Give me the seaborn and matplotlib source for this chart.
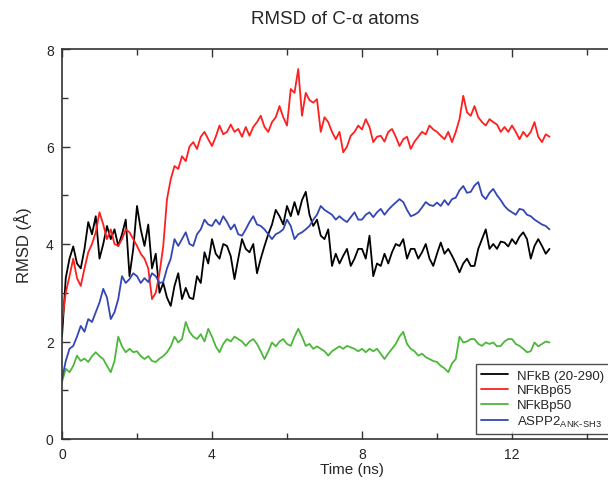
import numpy as np
import pandas as pd
import matplotlib.pyplot as plt
import seaborn as sns

# RMSD values (Angstrom), read every 0.1 ns from 0 to 13 ns
nfkb = [2.1, 3.3, 3.7, 3.95, 3.6, 3.5, 3.9, 4.45, 4.2, 4.57,
        3.7, 4.0, 4.37, 4.1, 4.3, 3.96, 4.2, 4.5, 3.34, 3.9,
        4.78, 4.3, 3.96, 4.4, 3.5, 3.8, 3.0, 3.2, 2.9, 2.73,
        3.14, 3.4, 2.87, 3.1, 2.9, 2.87, 3.34, 3.2, 3.83, 3.6,
        4.1, 3.8, 3.7, 4.0, 3.96, 3.75, 3.28, 3.7, 4.1, 3.9,
        3.83, 4.0, 3.4, 3.7, 3.96, 4.2, 4.4, 4.7, 4.57, 4.4,
        4.78, 4.57, 4.86, 4.6, 4.9, 5.07, 4.6, 4.37, 4.5, 4.17,
        4.1, 4.3, 3.55, 3.8, 3.6, 3.76, 3.9, 3.55, 3.7, 3.9,
        3.9, 3.7, 4.17, 3.34, 3.6, 3.55, 3.8, 3.6, 3.83, 4.0,
        3.96, 4.1, 3.7, 3.9, 3.9, 3.7, 3.83, 4.0, 3.7, 3.55,
        3.8, 4.03, 3.8, 3.9, 3.76, 3.6, 3.42, 3.6, 3.7, 3.55,
        3.55, 3.9, 4.1, 4.3, 3.9, 4.0, 3.9, 4.05, 4.03, 3.95,
        4.1, 4.0, 4.15, 4.24, 4.1, 3.7, 3.96, 4.1, 3.96, 3.8,
        3.9]
p65 = [2.4, 3.0, 3.34, 3.7, 3.3, 3.14, 3.5, 3.83, 4.0, 4.24,
       4.65, 4.4, 4.1, 4.3, 4.0, 3.96, 4.1, 4.3, 4.24, 4.1,
       3.96, 3.8, 3.7, 3.5, 2.87, 3.0, 3.4, 3.96, 4.92, 5.33,
       5.6, 5.54, 5.8, 5.7, 6.0, 6.09, 5.95, 6.2, 6.3, 6.15,
       6.01, 6.2, 6.43, 6.25, 6.3, 6.45, 6.3, 6.36, 6.2, 6.4,
       6.22, 6.4, 6.5, 6.63, 6.4, 6.3, 6.5, 6.6, 6.83, 6.6,
       6.43, 7.18, 7.1, 7.59, 6.63, 7.1, 6.95, 6.9, 6.97, 6.3,
       6.6, 6.5, 6.3, 6.15, 6.3, 5.88, 6.0, 6.22, 6.3, 6.43,
       6.35, 6.56, 6.4, 6.09, 6.2, 6.22, 6.1, 6.3, 6.36, 6.2,
       6.01, 6.15, 6.2, 5.95, 6.1, 6.2, 6.3, 6.25, 6.43, 6.35,
       6.3, 6.22, 6.15, 6.3, 6.09, 6.3, 6.56, 7.04, 6.7, 6.63,
       6.83, 6.6, 6.5, 6.43, 6.56, 6.5, 6.45, 6.3, 6.4, 6.3,
       6.43, 6.3, 6.15, 6.3, 6.2, 6.3, 6.5, 6.2, 6.09, 6.25,
       6.2]
p50 = [1.17, 1.44, 1.37, 1.5, 1.71, 1.6, 1.65, 1.58, 1.7, 1.78,
       1.7, 1.64, 1.5, 1.37, 1.6, 2.1, 1.9, 1.78, 1.85, 1.78,
       1.8, 1.7, 1.64, 1.7, 1.6, 1.58, 1.65, 1.7, 1.78, 1.9,
       2.1, 1.98, 2.05, 2.4, 2.2, 2.1, 2.05, 2.15, 2.0, 2.26,
       2.1, 1.9, 1.78, 1.95, 2.05, 2.0, 2.1, 2.05, 2.0, 1.91,
       2.0, 2.05, 1.95, 1.8, 1.64, 1.8, 1.98, 1.9, 2.0, 2.05,
       1.95, 1.91, 2.1, 2.26, 2.1, 1.91, 1.95, 1.85, 1.9, 1.85,
       1.8, 1.71, 1.8, 1.85, 1.9, 1.85, 1.91, 1.88, 1.85, 1.8,
       1.85, 1.78, 1.85, 1.8, 1.85, 1.75, 1.64, 1.75, 1.85, 1.95,
       2.1, 2.2, 1.95, 1.85, 1.8, 1.71, 1.75, 1.68, 1.64, 1.6,
       1.58, 1.5, 1.45, 1.37, 1.55, 1.64, 2.1, 1.98, 2.0, 2.05,
       2.05, 1.95, 1.91, 1.98, 1.95, 1.98, 1.9, 1.91, 2.0, 2.05,
       2.05, 1.95, 1.91, 1.85, 1.78, 1.8, 1.98, 1.9, 1.95, 2.0,
       1.98]
aspp2 = [1.23, 1.6, 1.85, 1.91, 2.1, 2.32, 2.2, 2.46, 2.4, 2.6,
         2.8, 3.08, 2.9, 2.46, 2.6, 2.87, 3.34, 3.2, 3.28, 3.4,
         3.34, 3.2, 3.3, 3.22, 3.4, 3.34, 3.2, 3.22, 3.5, 3.7,
         4.1, 3.96, 4.1, 4.24, 4.0, 3.96, 4.2, 4.3, 4.5, 4.4,
         4.37, 4.5, 4.4, 4.57, 4.45, 4.3, 4.4, 4.2, 4.17, 4.3,
         4.45, 4.57, 4.4, 4.37, 4.3, 4.2, 4.1, 4.2, 4.24, 4.3,
         4.5, 4.37, 4.1, 4.2, 4.24, 4.3, 4.37, 4.5, 4.6, 4.78,
         4.7, 4.65, 4.6, 4.5, 4.57, 4.5, 4.45, 4.55, 4.65, 4.5,
         4.5, 4.6, 4.65, 4.55, 4.65, 4.72, 4.6, 4.7, 4.78, 4.85,
         4.92, 4.86, 4.7, 4.57, 4.6, 4.65, 4.75, 4.86, 4.8, 4.78,
         4.85, 4.78, 4.9, 4.8, 4.92, 4.95, 5.1, 5.19, 5.05, 5.07,
         5.2, 5.27, 5.0, 4.92, 5.05, 5.13, 5.0, 4.9, 4.78, 4.7,
         4.65, 4.6, 4.72, 4.7, 4.6, 4.57, 4.5, 4.45, 4.4, 4.37,
         4.3]

labels = ["NFkB (20-290)", "NFkBp65", "NFkBp50", r"ASPP2$_{\mathregular{ANK\text{-}SH3}}$"]
colors = ["#000000", "#ff1f1f", "#4cb83a", "#3346b5"]

time = np.linspace(0, 13, len(nfkb))
frames = []
for lab, vals in zip(labels, [nfkb, p65, p50, aspp2]):
    frames.append(pd.DataFrame({"time": time, "rmsd": vals, "protein": lab}))
df = pd.concat(frames, ignore_index=True)

sns.set_style("ticks")
plt.rcParams['font.family'] = ['Liberation Sans', 'DejaVu Sans']

fig = plt.figure(figsize=(6.08, 4.85), dpi=100)
ax = fig.add_axes([62/608, 45/485, 600/608, 390/485])

sns.lineplot(data=df, x="time", y="rmsd", hue="protein", palette=colors,
             estimator=None, linewidth=1.3, ax=ax)

ax.set_xlim(0, 16)
ax.set_ylim(0, 8)
ax.set_xticks([0, 4, 8, 12])
ax.set_xticks([2, 6, 10, 14], minor=True)
ax.set_yticks([0, 2, 4, 6, 8])
ax.set_yticks([1, 3, 5, 7], minor=True)
ax.tick_params(which="both", direction="in", top=True, right=True,
               labelsize=10, color="#333333", width=1)
ax.tick_params(which="major", length=6, pad=6)
ax.tick_params(which="minor", length=4)
for s in ax.spines.values():
    s.set_color("#333333")
    s.set_linewidth(1.2)

ax.set_xlabel("")
ax.set_ylabel("RMSD (Å)", fontsize=12, labelpad=10)
fig.text(352/608, 1 - 470/485, "Time (ns)", ha="center", va="center", fontsize=11)
fig.text(335/608, 1 - 20/485, "RMSD of C-α atoms", ha="center", va="center", fontsize=13.5)

leg = ax.legend(loc="lower left", bbox_to_anchor=(0.69, 0.012), fontsize=9.5,
                frameon=True, fancybox=False, edgecolor="#222222",
                borderaxespad=0, handlelength=2.0, borderpad=0.4,
                labelspacing=0.2, handletextpad=0.7)
leg.get_frame().set_linewidth(1.0)

fig.savefig("out.png", dpi=100)
